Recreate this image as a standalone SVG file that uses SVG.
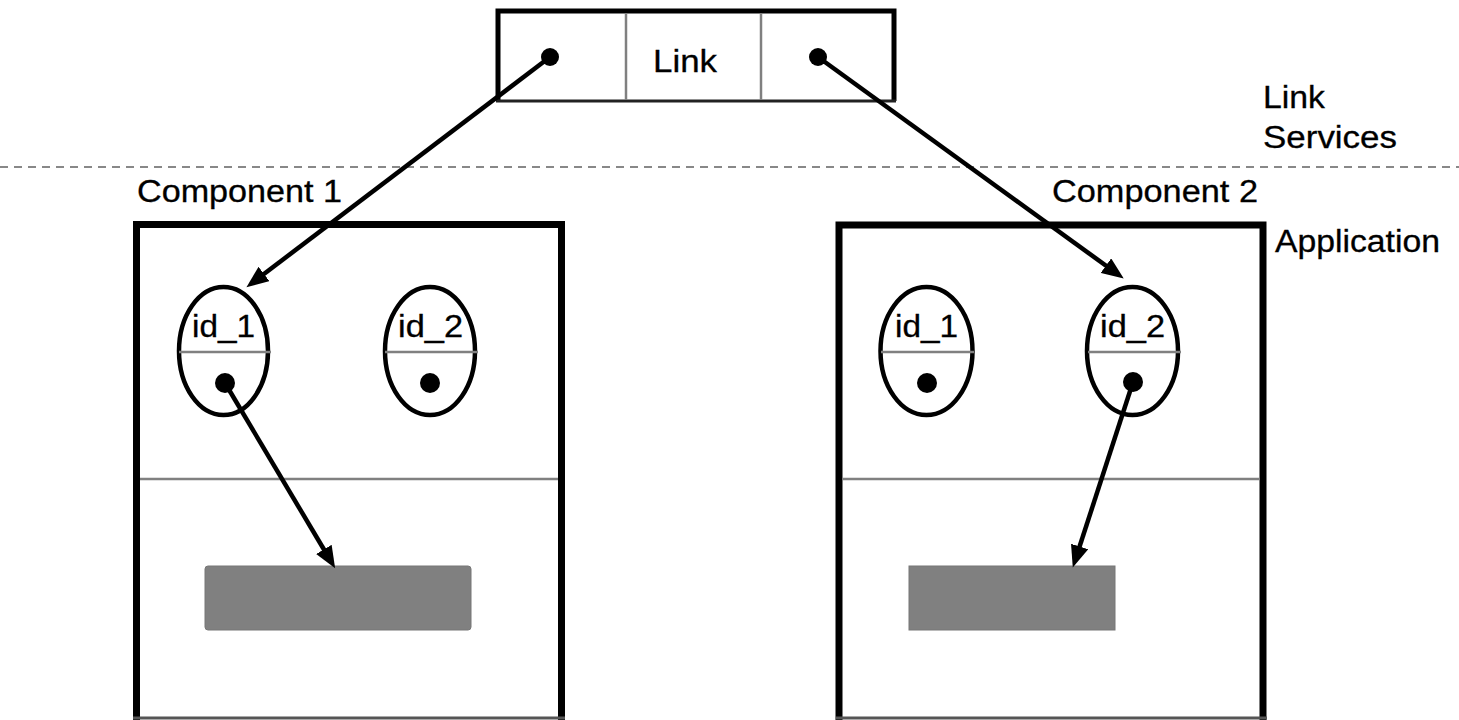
<svg xmlns="http://www.w3.org/2000/svg" width="1459" height="720" viewBox="0 0 1459 720">
  <style>
    .txt { font-family: "Liberation Sans", Arial, sans-serif; font-size: 31px; fill: #000; stroke: #000; stroke-width: 0.3; }
    .thick { fill: none; stroke: #000; stroke-width: 7; }
    .sep { stroke: #808080; stroke-width: 2.5; fill: none; }
    .ell { fill: #fff; stroke: #000; stroke-width: 4.5; }
    .dot { fill: #000; }
    .conn { stroke: #000; stroke-width: 4.5; fill: none; marker-end: url(#arrow); }
    .target { fill: #808080; stroke: #777; stroke-width: 1; }
  </style>
  <defs>
    <marker id="arrow" markerUnits="userSpaceOnUse" markerWidth="24" markerHeight="18" refX="10" refY="9" orient="auto">
      <path d="M0,0 L22,9 L0,18 Z" fill="#000"/>
    </marker>
  </defs>
  <rect width="1459" height="720" fill="#fff"/>

  <!-- layer separator -->
  <line x1="0" y1="167" x2="1459" y2="167" stroke="#888" stroke-width="2" stroke-dasharray="8 6"/>
  <text class="txt" x="1263" y="108" textLength="62" lengthAdjust="spacingAndGlyphs">Link</text>
  <text class="txt" x="1263" y="148" textLength="134" lengthAdjust="spacingAndGlyphs">Services</text>
  <text class="txt" x="1275" y="252" textLength="165" lengthAdjust="spacingAndGlyphs">Application</text>

  <!-- Link node -->
  <g id="link">
    <path d="M498,101 L498,11 L894,11 L894,101" fill="#fff" stroke="#000" stroke-width="5"/>
    <line x1="496" y1="101" x2="896" y2="101" stroke="#222" stroke-width="3"/>
    <line x1="626" y1="13" x2="626" y2="100" class="sep" stroke-width="1.5"/>
    <line x1="761" y1="13" x2="761" y2="100" class="sep" stroke-width="1.5"/>
    <text class="txt" x="653" y="72" textLength="64" lengthAdjust="spacingAndGlyphs">Link</text>
    <circle class="dot" cx="550" cy="57" r="9"/>
    <circle class="dot" cx="818" cy="57" r="9"/>
  </g>

  <!-- Component 1 -->
  <g id="component1">
    <text class="txt" x="137" y="202" textLength="205" lengthAdjust="spacingAndGlyphs">Component 1</text>
    <path class="thick" d="M136.5,722 L136.5,224.5 L561.5,224.5 L561.5,722"/>
    <line x1="133" y1="718" x2="565" y2="718" stroke="#555" stroke-width="3"/>
    <line class="sep" x1="140" y1="479" x2="558" y2="479"/>
    <rect class="target" x="205" y="566" width="266" height="64" rx="3"/>
    <g id="c1_id1">
      <ellipse class="ell" cx="223.5" cy="351" rx="44.5" ry="64"/>
      <line class="sep" x1="179" y1="352" x2="271" y2="352"/>
      <text class="txt" x="192" y="337" textLength="63" lengthAdjust="spacingAndGlyphs">id_1</text>
      <circle class="dot" cx="225" cy="383" r="10"/>
    </g>
    <g id="c1_id2">
      <ellipse class="ell" cx="430" cy="351" rx="45" ry="64"/>
      <line class="sep" x1="385" y1="352" x2="478" y2="352"/>
      <text class="txt" x="398" y="337" textLength="65" lengthAdjust="spacingAndGlyphs">id_2</text>
      <circle class="dot" cx="430" cy="383" r="10"/>
    </g>
  </g>

  <!-- Component 2 -->
  <g id="component2">
    <text class="txt" x="1052" y="202" textLength="206" lengthAdjust="spacingAndGlyphs">Component 2</text>
    <path class="thick" d="M839,722 L839,225 L1263,225 L1263,722"/>
    <line x1="836" y1="718" x2="1267" y2="718" stroke="#555" stroke-width="3"/>
    <line class="sep" x1="843" y1="479" x2="1260" y2="479"/>
    <rect class="target" x="909" y="566" width="206" height="64"/>
    <g id="c2_id1">
      <ellipse class="ell" cx="926.5" cy="351" rx="46" ry="64"/>
      <line class="sep" x1="881" y1="352" x2="974" y2="352"/>
      <text class="txt" x="895" y="337" textLength="63" lengthAdjust="spacingAndGlyphs">id_1</text>
      <circle class="dot" cx="927" cy="383" r="10"/>
    </g>
    <g id="c2_id2">
      <ellipse class="ell" cx="1132.5" cy="351" rx="45.5" ry="64"/>
      <line class="sep" x1="1088" y1="352" x2="1181" y2="352"/>
      <text class="txt" x="1100" y="337" textLength="65" lengthAdjust="spacingAndGlyphs">id_2</text>
      <circle class="dot" cx="1133" cy="382" r="10"/>
    </g>
  </g>

  <!-- connectors -->
  <g id="connectors">
    <line class="conn" x1="550" y1="57" x2="256" y2="280"/>
    <line class="conn" x1="818" y1="57" x2="1114" y2="271.5"/>
    <line class="conn" x1="225" y1="383" x2="329" y2="558"/>
    <line class="conn" x1="1133" y1="382" x2="1076.5" y2="556"/>
  </g>
</svg>
